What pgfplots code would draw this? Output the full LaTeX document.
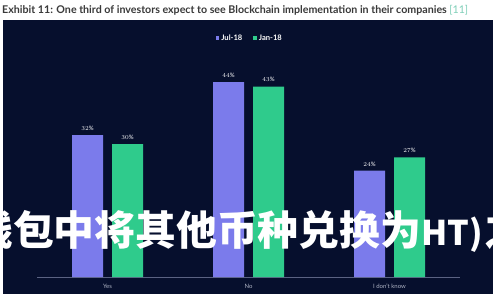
\documentclass[border=0pt]{standalone}
\usepackage{fontspec}
\setmainfont{Lato}
\newfontfamily\cjk{Noto Sans CJK SC}
\usepackage{pgfplots}
\pgfplotsset{compat=1.18}
\definecolor{navy}{HTML}{060F2D}
\definecolor{julc}{HTML}{7B7BEB}
\definecolor{janc}{HTML}{2FCB8C}
\definecolor{axc}{HTML}{5A6282}
\definecolor{tickc}{HTML}{AEB3C4}
\definecolor{titc}{HTML}{3A3A3A}
\definecolor{refc}{HTML}{7FCFB8}
\begin{document}
\begin{tikzpicture}
\useasboundingbox (0pt,0pt) rectangle (500pt,300pt);
\clip (0pt,0pt) rectangle (500pt,300pt);
\fill[white] (0pt,0pt) rectangle (500pt,300pt);
\fill[navy] (3pt,6pt) rectangle (493pt,280pt);
\node[anchor=west, inner sep=0pt, text=titc] at (2pt,290pt) {\resizebox{466pt}{!}{\bfseries Exhibit 11: One third of investors expect to see Blockchain implementation in their companies \textcolor{refc}{\mdseries[11]}}};
\begin{axis}[
  at={(37pt,23pt)}, anchor=south west,
  scale only axis, width=423pt, height=221.5pt,
  xmin=-0.5, xmax=2.5, ymin=0, ymax=50,
  ybar=9pt, bar width=31pt,
  axis x line*=bottom, axis y line=none,
  x axis line style={draw=axc, line width=0.8pt, -},
  xtick={0,1,2}, xticklabels={Yes,No,I don't know},
  major tick length=0pt,
  xticklabel style={font=\fontsize{6}{7}\selectfont, text=tickc, yshift=-3.5pt},
  nodes near coords={\pgfmathprintnumber{\pgfplotspointmeta}\%},
  every node near coord/.append style={font=\fontsize{6}{7}\selectfont, text=white, yshift=1pt},
  legend style={at={(0.503,1.079)}, anchor=center, draw=none, fill=none, legend columns=2, text=white, font=\fontsize{7.6}{8}\selectfont\bfseries, /tikz/every even column/.append style={column sep=9pt}},
]
\addplot[fill=julc, draw=none, legend image code/.code={\fill[julc] (0pt,-1.8pt) rectangle (3.6pt,1.8pt);}] coordinates {(0,32) (1,44) (2,24)};
\addplot[fill=janc, draw=none, legend image code/.code={\fill[janc] (0pt,-1.8pt) rectangle (3.6pt,1.8pt);}] coordinates {(0,30) (1,43) (2,27)};
\legend{Jul-18, Jan-18}
\end{axis}
\node[anchor=west, inner sep=0pt, text=white] at (-28pt,69pt) {\cjk\bfseries\fontsize{40.8}{41}\selectfont 钱包中将其他币种兑换为{\fontsize{34}{41}\selectfont HT)}\hspace{2pt}之};
\end{tikzpicture}
\end{document}
